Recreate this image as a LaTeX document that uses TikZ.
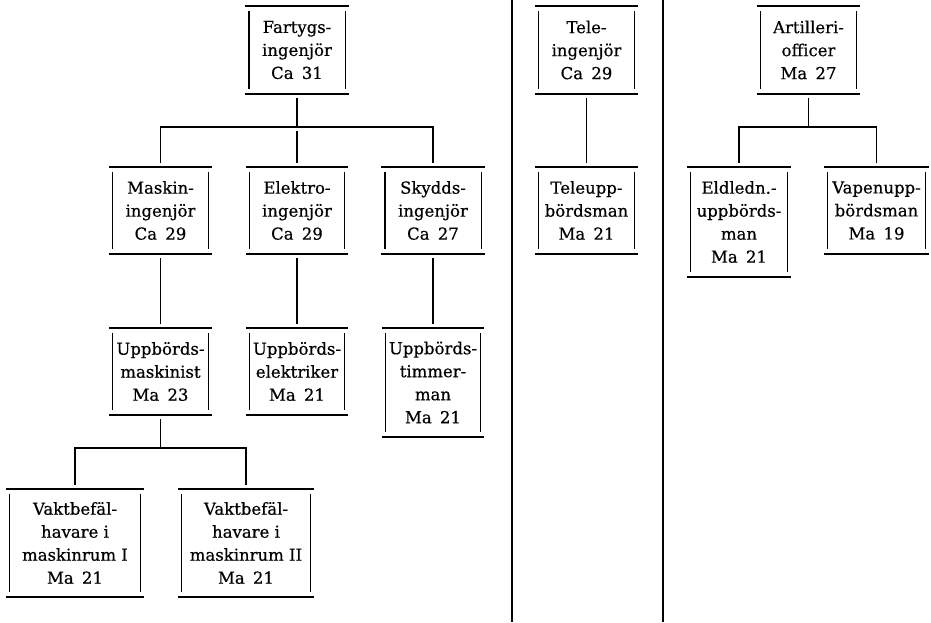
\documentclass[tikz,border=0pt]{standalone}
\usepackage{fontspec}
\setmainfont{DejaVu Serif}
\newfontfamily\orgfont{DejaVu Serif}[FakeBold=0.5]
\newcommand\myorgframe[1]{%
  \draw[hline] ([xshift=-1pt]#1.north west) -- ([xshift=1pt]#1.north east)
               ([xshift=-1pt]#1.south west) -- ([xshift=1pt]#1.south east);
  \draw[vline] ([xshift=2.5pt,yshift=-5pt]#1.north west) -- ([xshift=2.5pt,yshift=5pt]#1.south west)
               ([xshift=-2.5pt,yshift=-5pt]#1.north east) -- ([xshift=-2.5pt,yshift=5pt]#1.south east);
}
\tikzset{
  hline/.style={line width=1.8pt, line cap=butt},
  vline/.style={line width=1.4pt},
  conn/.style={line width=1.3pt, shorten <=4pt, shorten >=4pt},
  conntop/.style={line width=1.3pt, shorten <=4pt},
  divider/.style={line width=2.3pt},
  orgbox/.style={inner sep=0pt, align=center, font=\orgfont\fontsize{16.5}{23}\selectfont,
    execute at begin node={\rule{0pt}{18.5pt}}},
  std/.style={orgbox, minimum width=101pt, minimum height=87pt}
}
\begin{document}
\begin{tikzpicture}[x=1pt, y=-1pt]
\useasboundingbox (0,0) rectangle (931,622);
% dividers
\coordinate (d1t) at (512,0);
\coordinate (d1b) at (512,622);
\coordinate (d2t) at (663,0);
\coordinate (d2b) at (663,622);
\draw[divider] (d1t) -- (d1b);
\draw[divider] (d2t) -- (d2b);
% row 1
\node[std] (far) at (297,50) {Fartygs-\\ingenjör\\Ca\enspace31};
\node[std] (tele) at (586.5,50) {Tele-\\ingenjör\\Ca\enspace29};
\node[std] (art) at (808.5,50) {Artilleri-\\officer\\Ma\enspace27};
% row 2
\node[std] (mask) at (160.5,210.5) {Maskin-\\ingenjör\\Ca\enspace29};
\node[std, minimum width=100pt] (elek) at (297,210.5) {Elektro-\\ingenjör\\Ca\enspace29};
\node[std] (skyd) at (433,210.5) {Skydds-\\ingenjör\\Ca\enspace27};
\node[std] (teleupp) at (586.5,210.5) {Teleupp-\\bördsman\\Ma\enspace21};
\node[std, minimum width=102pt, minimum height=110pt] (eld) at (739,222) {Eldledn.-\\uppbörds-\\man\\Ma\enspace21};
\node[std, minimum width=103pt] (vap) at (876.5,210.5) {Vapenupp-\\bördsman\\Ma\enspace19};
% row 3
\node[std] (umask) at (160.5,371.5) {Uppbörds-\\maskinist\\Ma\enspace23};
\node[std, minimum width=100pt] (uelek) at (297,371.5) {Uppbörds-\\elektriker\\Ma\enspace21};
\node[std, minimum width=100pt, minimum height=109pt] (utim) at (433,382.5) {Uppbörds-\\timmer-\\man\\Ma\enspace21};
% row 4
\node[std, minimum width=136pt, minimum height=108pt] (vakt1) at (75,543) {Vaktbefäl-\\havare i\\maskinrum I\\Ma\enspace21};
\node[std, minimum width=134pt, minimum height=108pt] (vakt2) at (246,543) {Vaktbefäl-\\havare i\\maskinrum II\\Ma\enspace21};
% frames
\foreach \n in {far,tele,art,mask,elek,skyd,teleupp,eld,vap,umask,uelek,utim,vakt1,vakt2} {\myorgframe{\n}}
% connectors
\coordinate (j1) at (297,127);
\draw[conntop] (far) -- (j1);
\draw[conn] (mask.north) |- (j1) -| (skyd.north);
\draw[conn] (j1) -- (elek);
\draw[conn] (mask) -- (umask);
\draw[conn] (elek) -- (uelek);
\draw[conn] (skyd) -- (utim);
\coordinate (j2) at (160.5,448);
\draw[conntop] (umask) -- (j2);
\draw[conn] (vakt1.north) |- (j2) -| (vakt2.north);
\draw[conn] (tele) -- (teleupp);
\coordinate (j3) at (808.5,127);
\draw[conntop] (art) -- (j3);
\draw[conn] (eld.north) |- (j3) -| (vap.north);
\end{tikzpicture}
\end{document}
